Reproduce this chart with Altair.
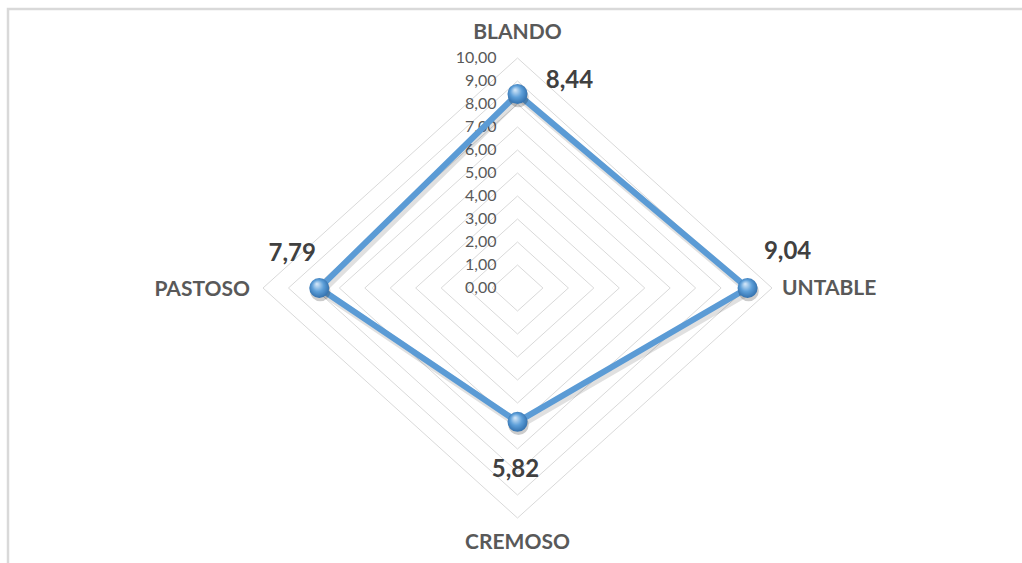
import altair as alt
import pandas as pd

# Radar data: four texture attributes, clockwise from the top
categories = ["BLANDO", "UNTABLE", "CREMOSO", "PASTOSO"]
values = [8.44, 9.04, 5.82, 7.79]
grid_levels = [1, 2, 3, 4, 5, 6, 7, 8, 9, 10]
tick_levels = [0, 1, 2, 3, 4, 5, 6, 7, 8, 9, 10]
tick_labels = ["0,00", "1,00", "2,00", "3,00", "4,00", "5,00",
               "6,00", "7,00", "8,00", "9,00", "10,00"]
value_labels = ["8,44", "9,04", "5,82", "7,79"]

n = len(categories)
FONT = "Lato"

# closed polygon for the series
series = pd.DataFrame({
    "cat": categories + categories[:1],
    "value": values + values[:1],
    "idx": list(range(n)) + [n],
    "label": value_labels + value_labels[:1],
})
points = series.iloc[:n]

# concentric diamonds for the grid
grid = pd.DataFrame(
    [{"level": lv, "idx": i} for lv in grid_levels for i in range(n + 1)]
)
# value-axis labels run up the first (vertical) spoke
ticks = pd.DataFrame({"level": tick_levels, "text": tick_labels, "idx": [0] * len(tick_levels)})
cat_frame = pd.DataFrame({"cat": categories, "idx": list(range(n)), "r": [10] * n})

xs = alt.Scale(domain=[-10, 10], nice=False, zero=False)
ys = alt.Scale(domain=[-10, 10], nice=False, zero=False)


def polar(chart, r_field):
    return chart.transform_calculate(
        ang=f"datum.idx * 2 * PI / {n}"
    ).transform_calculate(
        px=f"datum.{r_field} * sin(datum.ang)",
        py=f"datum.{r_field} * cos(datum.ang)",
    )


def xy():
    return dict(
        x=alt.X("px:Q", scale=xs, axis=None),
        y=alt.Y("py:Q", scale=ys, axis=None),
    )


border = alt.Chart(pd.DataFrame({"k": [0]})).mark_rect(
    fillOpacity=0, stroke="#d9d9d9", strokeWidth=2.5
).encode(
    x=alt.value(-255), x2=alt.value(900),
    y=alt.value(-49), y2=alt.value(600),
)

grid_lines = polar(alt.Chart(grid), "level").mark_line(
    color="#d9d9d9", strokeWidth=1
).encode(detail="level:N", order="idx:Q", **xy())

tick_text = polar(alt.Chart(ticks), "level").mark_text(
    align="right", baseline="middle", dx=-21, font=FONT, fontSize=16, color="#595959"
).encode(text="text:N", **xy())

shadow = polar(alt.Chart(series), "value").mark_line(
    color="#000000", opacity=0.12, strokeWidth=8, xOffset=2, yOffset=3,
    strokeJoin="round"
).encode(order="idx:Q", **xy())

line = polar(alt.Chart(series), "value").mark_line(
    color="#5b9bd5", strokeWidth=6, strokeJoin="miter"
).encode(order="idx:Q", **xy())

dot_shadow = polar(alt.Chart(points), "value").mark_circle(
    color="#000000", opacity=0.2, size=420, xOffset=1, yOffset=3
).encode(**xy())

sphere = alt.RadialGradient(
    gradient="radial", x1=0.38, y1=0.3, r1=0.02, x2=0.5, y2=0.5, r2=0.62,
    stops=[
        alt.GradientStop(color="#d2e6f8", offset=0),
        alt.GradientStop(color="#5d9fd9", offset=0.45),
        alt.GradientStop(color="#24609e", offset=1),
    ],
)

dots = polar(alt.Chart(points), "value").mark_circle(
    size=400, opacity=1, color=sphere
).encode(**xy())

# per-category placement of the text around the chart
cat_style = {
    "BLANDO": dict(align="center", dx=0, dy=-25),
    "UNTABLE": dict(align="left", dx=10, dy=1),
    "CREMOSO": dict(align="center", dx=0, dy=25),
    "PASTOSO": dict(align="right", dx=-13, dy=2),
}
val_style = {
    "BLANDO": dict(dx=52, dy=-13),
    "UNTABLE": dict(dx=40, dy=-36),
    "CREMOSO": dict(dx=-2, dy=48),
    "PASTOSO": dict(dx=-27, dy=-34),
}

layers = [border, grid_lines, tick_text, shadow, line, dot_shadow, dots]

for c in categories:
    st = cat_style[c]
    layers.append(
        polar(alt.Chart(cat_frame), "r").transform_filter(
            alt.datum.cat == c
        ).mark_text(
            baseline="middle", font=FONT, fontSize=21, fontWeight="bold",
            color="#595959", **st
        ).encode(text="cat:N", **xy())
    )
    vs = val_style[c]
    layers.append(
        polar(alt.Chart(points), "value").transform_filter(
            alt.datum.cat == c
        ).mark_text(
            align="center", baseline="middle", font=FONT, fontSize=24,
            fontWeight="bold", color="#404040", **vs
        ).encode(text="label:N", **xy())
    )

chart = alt.layer(*layers).properties(
    width=509, height=460,
    autosize=alt.AutoSizeParams(type="none"),
    padding={"left": 263, "top": 58, "right": 250, "bottom": 45},
    background="white",
).configure_view(strokeWidth=0)

chart.save("out.html", embed_options={"renderer": "svg", "actions": False})
